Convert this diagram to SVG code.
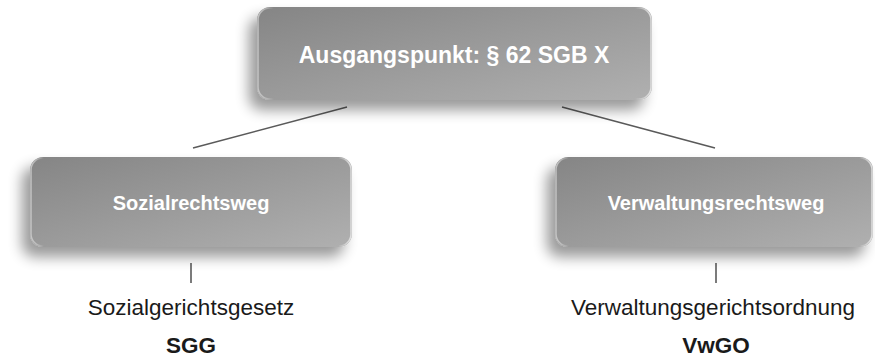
<svg xmlns="http://www.w3.org/2000/svg" width="875" height="359" viewBox="0 0 875 359">
  <style>
    .box { fill: url(#boxGrad); filter: url(#shadow); }
    .edge { fill: none; stroke: url(#edgeGrad); stroke-width: 1.5; }
    .title { font-family: "Liberation Sans", Arial, sans-serif; font-weight: bold; fill: #ffffff; text-anchor: middle; }
    .label { font-family: "Liberation Sans", Arial, sans-serif; fill: #1a1a1a; text-anchor: middle; font-size: 22.5px; }
    .abbr { font-family: "Liberation Sans", Arial, sans-serif; font-weight: bold; fill: #1a1a1a; text-anchor: middle; font-size: 22.5px; }
    .conn { stroke: #5a5a5a; stroke-width: 1.6; fill: none; }
  </style>
  <defs>
    <linearGradient id="boxGrad" x1="0" y1="0" x2="1" y2="1">
      <stop offset="0" stop-color="#858585"/>
      <stop offset="1" stop-color="#b0b0b0"/>
    </linearGradient>
    <linearGradient id="edgeGrad" x1="0" y1="0" x2="1" y2="0">
      <stop offset="0" stop-color="#d0d0d0" stop-opacity="0.8"/>
      <stop offset="0.04" stop-color="#ffffff" stop-opacity="0"/>
      <stop offset="0.96" stop-color="#ffffff" stop-opacity="0"/>
      <stop offset="1" stop-color="#e6e6e6" stop-opacity="0.9"/>
    </linearGradient>
    <filter id="shadow" x="-20%" y="-30%" width="140%" height="170%">
      <feGaussianBlur in="SourceAlpha" stdDeviation="7"/>
      <feOffset dx="-8" dy="10" result="b"/>
      <feComponentTransfer in="b" result="s">
        <feFuncA type="linear" slope="0.4"/>
      </feComponentTransfer>
      <feMerge>
        <feMergeNode in="s"/>
        <feMergeNode in="SourceGraphic"/>
      </feMerge>
    </filter>
  </defs>

  <g id="connectors">
    <line class="conn" x1="347" y1="107" x2="193" y2="148"/>
    <line class="conn" x1="562" y1="107" x2="715" y2="148"/>
    <line class="conn" x1="191" y1="263" x2="191" y2="283"/>
    <line class="conn" x1="716" y1="263" x2="716" y2="283"/>
  </g>

  <g id="node-top">
    <rect class="box" x="257" y="7" width="395" height="93" rx="13"/>
    <rect class="edge" x="258" y="8" width="393" height="91" rx="12"/>
    <text class="title" x="454" y="63" font-size="23">Ausgangspunkt: § 62 SGB X</text>
  </g>

  <g id="node-sozial">
    <rect class="box" x="30" y="157" width="322" height="90" rx="13"/>
    <rect class="edge" x="31" y="158" width="320" height="88" rx="12"/>
    <text class="title" x="191" y="210" font-size="20">Sozialrechtsweg</text>
  </g>

  <g id="node-verwaltung">
    <rect class="box" x="555" y="157" width="318" height="90" rx="13"/>
    <rect class="edge" x="556" y="158" width="316" height="88" rx="12"/>
    <text class="title" x="716" y="210" font-size="20">Verwaltungsrechtsweg</text>
  </g>

  <g id="law-sgg">
    <text class="label" x="191" y="315">Sozialgerichtsgesetz</text>
    <text class="abbr" x="191" y="353">SGG</text>
  </g>

  <g id="law-vwgo">
    <text class="label" x="713" y="315">Verwaltungsgerichtsordnung</text>
    <text class="abbr" x="716" y="353">VwGO</text>
  </g>
</svg>
